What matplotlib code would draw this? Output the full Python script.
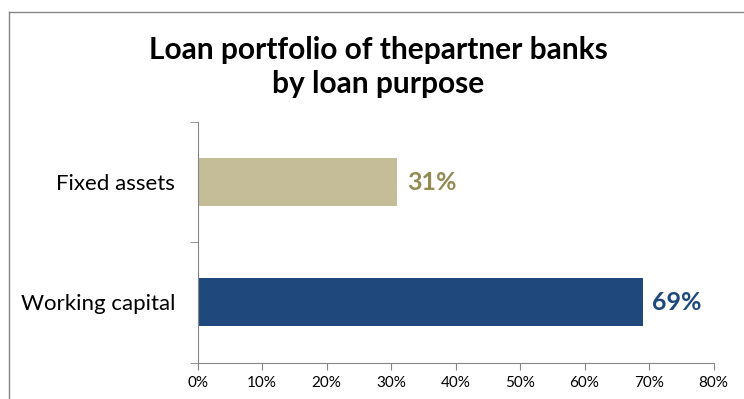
import matplotlib
matplotlib.use("Agg")
import matplotlib.pyplot as plt
from matplotlib.lines import Line2D

categories = ["Working capital", "Fixed assets"]
values = [69, 31]
bar_colors = ["#1F497D", "#C4BD97"]
label_colors = ["#1F497D", "#948A54"]
xticks = [0, 10, 20, 30, 40, 50, 60, 70, 80]
title = "Loan portfolio of thepartner banks\nby loan purpose"

plt.rcParams["font.family"] = ["Lato", "DejaVu Sans"]
GREY = "#868686"

fig = plt.figure(figsize=(7.44, 3.99), dpi=100)
ax = fig.add_axes([197.5/744, 1-362.5/399, 516/744, 240.5/399])

y = range(len(categories))
ax.barh(y, values, 0.4, color=bar_colors)
for yi, v, c in zip(y, values, label_colors):
    ax.annotate(f"{v}%", (v, yi), xytext=(7, 0), textcoords="offset points",
                ha="left", va="center", color=c, fontsize=18, fontweight="bold")

ax.set_xlim(0, 80)
ax.set_ylim(-0.5, 1.5)
ax.set_xticks(xticks)
ax.set_xticklabels([f"{t}%" for t in xticks], fontsize=11)
ax.set_yticks(list(y))
ax.set_yticklabels(categories, fontsize=16)
ax.tick_params(axis="y", which="major", length=0, pad=16)
ax.set_yticks([-0.5, 0.5, 1.5], minor=True)
ax.tick_params(axis="y", which="minor", length=6, color=GREY, direction="out")
ax.tick_params(axis="x", length=5, color=GREY, direction="out", pad=5)
for s in ("top", "right"):
    ax.spines[s].set_visible(False)
for s in ("left", "bottom"):
    ax.spines[s].set_color(GREY)

fig.text(378/744, 1-67/399, title, ha="center", va="center",
         fontsize=21.5, fontweight="bold", linespacing=1.3)

# chart area border (top + left only visible)
fig.add_artist(Line2D([8.5/744, 8.5/744], [0, 1-11.5/399], color=GREY, lw=1))
fig.add_artist(Line2D([8.5/744, 1], [1-11.5/399, 1-11.5/399], color=GREY, lw=1))

fig.savefig("out.png", dpi=100)
